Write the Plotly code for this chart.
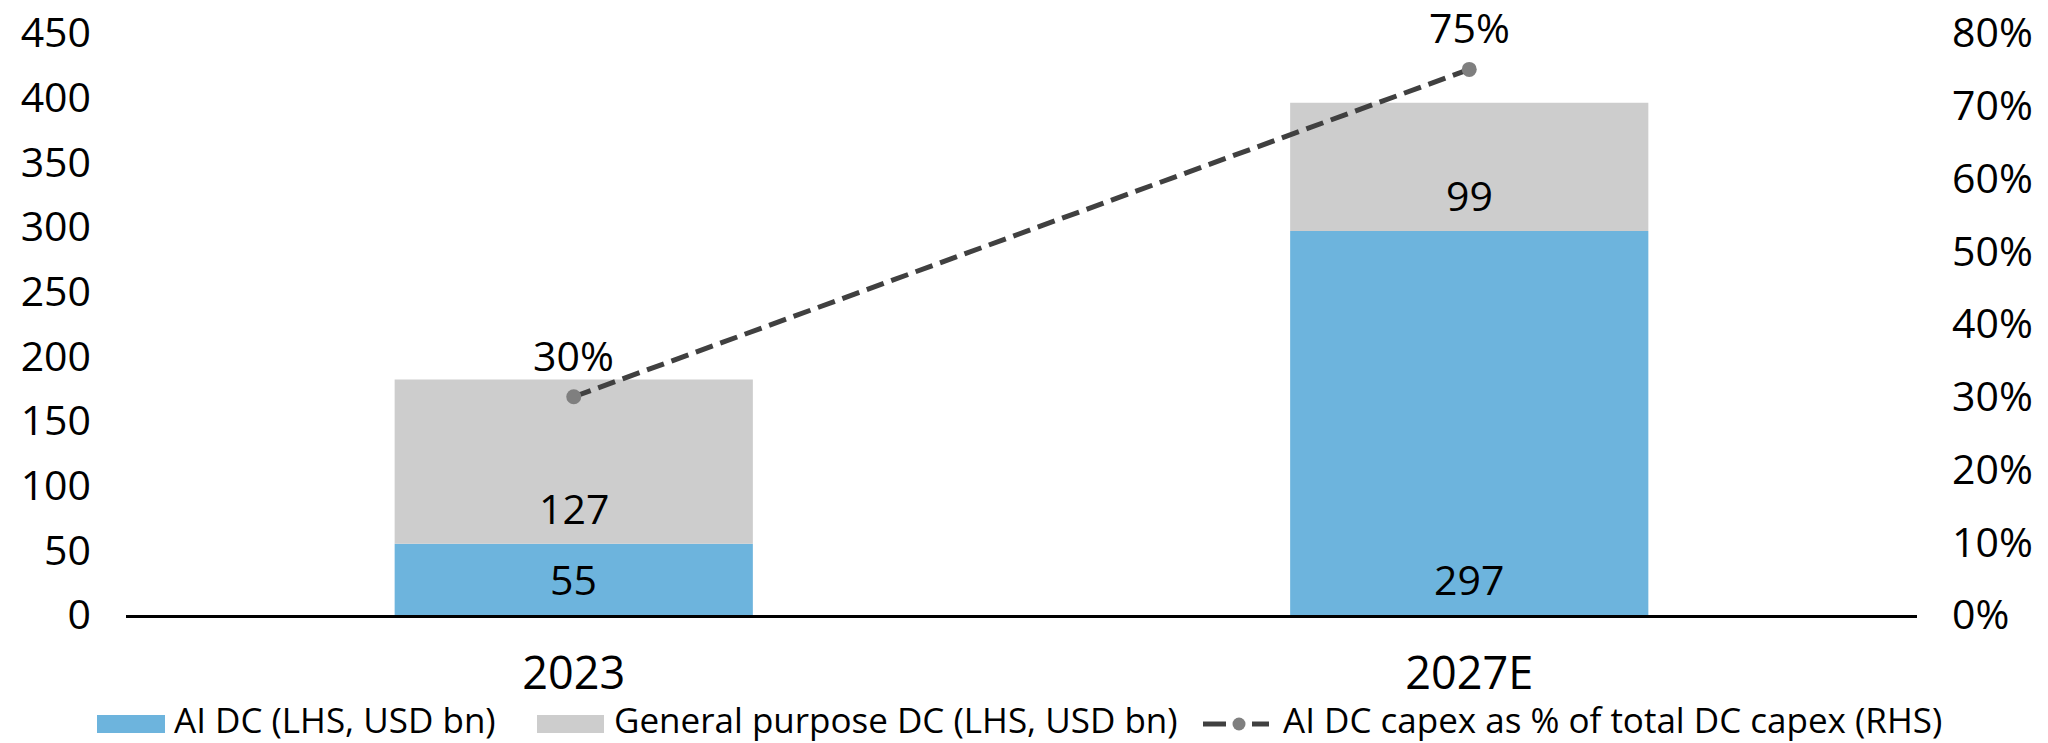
import plotly.graph_objects as go

# ---- data ----
categories = ["2023", "2027E"]
ai_dc = [55, 297]            # USD bn, left axis
general_dc = [127, 99]       # USD bn, left axis
ai_share = [0.30, 0.75]      # share of total DC capex, right axis
left_ticks = [0, 50, 100, 150, 200, 250, 300, 350, 400, 450]
right_ticks = [0.0, 0.1, 0.2, 0.3, 0.4, 0.5, 0.6, 0.7, 0.8]
legend_labels = [
    "AI DC (LHS, USD bn)",
    "General purpose DC (LHS, USD bn)",
    "AI DC capex as % of total DC capex (RHS)",
]

# ---- style ----
BLUE = "#6DB4DD"
GREY = "#CDCDCD"
LINE = "#404040"
MARKER = "#7F7F7F"
FONT = "Open Sans"

W, H = 2048, 743
ML, MR, MT, MB = 126, 131, 33, 128
PW, PH = W - ML - MR, H - MT - MB


def px(x):
    return (x - ML) / PW


def py(y):
    return (H - MB - y) / PH


fig = go.Figure()

fig.add_trace(go.Bar(x=categories, y=ai_dc, marker=dict(color=BLUE, line=dict(width=0)),
                     name=legend_labels[0], showlegend=False, hoverinfo="skip"))
fig.add_trace(go.Bar(x=categories, y=general_dc, base=ai_dc,
                     marker=dict(color=GREY, line=dict(width=0)),
                     name=legend_labels[1], showlegend=False, hoverinfo="skip"))
fig.add_trace(go.Scatter(x=categories, y=ai_share, yaxis="y2", mode="lines+markers",
                         line=dict(color=LINE, width=5, dash="18px,8px"),
                         marker=dict(color=MARKER, size=15, line=dict(width=0)),
                         name=legend_labels[2], showlegend=False, hoverinfo="skip"))

annotations = []
# segment value labels, placed just above each segment's base
# (category axes take the category index for annotation positions)
for i, (a, g) in enumerate(zip(ai_dc, general_dc)):
    annotations.append(dict(x=i, y=0, xref="x", yref="y", text=str(a),
                            showarrow=False, yanchor="middle", yshift=36,
                            font=dict(family=FONT, size=41, color="black")))
    annotations.append(dict(x=i, y=a, xref="x", yref="y", text=str(g),
                            showarrow=False, yanchor="middle", yshift=36,
                            font=dict(family=FONT, size=41, color="black")))
# share labels above the line points
for i, s in enumerate(ai_share):
    annotations.append(dict(x=i, y=s, xref="x", yref="y2", text=f"{s:.0%}",
                            showarrow=False, yanchor="middle", yshift=42,
                            font=dict(family=FONT, size=41, color="black")))

# ---- legend row ----
shapes = []
LEG_Y0, LEG_Y1, LEG_YC = 715, 733, 719
swatches = [(97, 165, BLUE, 173), (537, 604, GREY, 613)]
for (x0, x1, col, tx), label in zip(swatches, legend_labels[:2]):
    shapes.append(dict(type="rect", xref="paper", yref="paper",
                       x0=px(x0), x1=px(x1), y0=py(LEG_Y1), y1=py(LEG_Y0),
                       fillcolor=col, line=dict(width=0)))
    annotations.append(dict(x=px(tx), y=py(LEG_YC), xref="paper", yref="paper",
                            text=label, showarrow=False, xanchor="left", yanchor="middle",
                            borderpad=0,
                            font=dict(family=FONT, size=35, color="black")))
for x0, x1 in [(1203, 1226), (1252, 1269)]:
    shapes.append(dict(type="line", xref="paper", yref="paper",
                       x0=px(x0), x1=px(x1), y0=py(724), y1=py(724),
                       line=dict(color=LINE, width=5)))
r = 6.5
shapes.append(dict(type="circle", xref="paper", yref="paper",
                   x0=px(1239 - r), x1=px(1239 + r), y0=py(724 + r), y1=py(724 - r),
                   fillcolor=MARKER, line=dict(width=0)))
annotations.append(dict(x=px(1282), y=py(LEG_YC), xref="paper", yref="paper",
                        text=legend_labels[2], showarrow=False, xanchor="left", yanchor="middle",
                        borderpad=0,
                        font=dict(family=FONT, size=35, color="black")))

fig.update_layout(
    width=W, height=H,
    margin=dict(l=ML, r=MR, t=MT, b=MB, pad=0, autoexpand=False),
    paper_bgcolor="white", plot_bgcolor="white",
    barmode="overlay", bargap=0.6,
    showlegend=False,
    font=dict(family=FONT, color="black"),
    xaxis=dict(type="category", categoryorder="array", categoryarray=categories,
               range=[-0.5, len(categories) - 0.5], automargin=False,
               showline=True, linecolor="black", linewidth=3,
               showgrid=False, zeroline=False, ticks="",
               ticklabelstandoff=17,
               tickfont=dict(family=FONT, size=45, color="black")),
    yaxis=dict(range=[0, 450], tickvals=left_ticks, showgrid=False, zeroline=False,
               showline=False, ticks="", ticklabelstandoff=34, automargin=False,
               tickfont=dict(family=FONT, size=41, color="black")),
    yaxis2=dict(range=[0, 0.8], tickvals=right_ticks, tickformat=".0%",
                overlaying="y", side="right", showgrid=False, zeroline=False,
                showline=False, ticks="", ticklabelstandoff=34, automargin=False,
                tickfont=dict(family=FONT, size=41, color="black")),
    annotations=annotations,
    shapes=shapes,
)

fig.write_html("out.html")
